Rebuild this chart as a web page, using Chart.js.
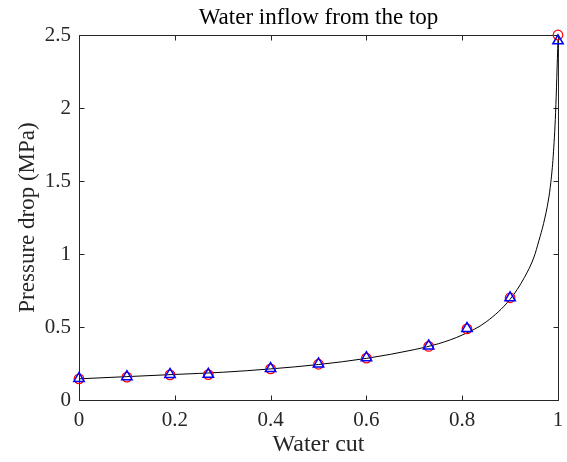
<!DOCTYPE html>
<html>
<head>
<meta charset="utf-8">
<script src="https://cdn.jsdelivr.net/npm/chart.js@4.4.0/dist/chart.umd.min.js"></script>
<style>
  html, body { margin: 0; padding: 0; background: #fff; }
  #wrap { width: 567px; height: 462px; position: relative; }
</style>
</head>
<body>
<div id="wrap"><canvas id="c"></canvas></div>
<script>
const titleText = 'Water inflow from the top';
const xTitle = 'Water cut';
const yTitle = 'Pressure drop (MPa)';
const xTicks = [0, 0.2, 0.4, 0.6, 0.8, 1];
const yTicks = [0, 0.5, 1, 1.5, 2, 2.5];

// measured points
const waterCut   = [0, 0.1, 0.19, 0.27, 0.4, 0.5, 0.6, 0.73, 0.81, 0.9, 1];
const dpCircle   = [0.145, 0.157, 0.172, 0.174, 0.213, 0.245, 0.287, 0.367, 0.487, 0.70, 2.50];
const dpTriangle = [0.148, 0.160, 0.175, 0.176, 0.215, 0.247, 0.290, 0.370, 0.490, 0.70, 2.46];

// model curve
const curveX = [0, 0.1, 0.2, 0.3, 0.4, 0.5, 0.6, 0.7, 0.75, 0.8, 0.85, 0.9, 0.93, 0.95, 0.96, 0.97, 0.98, 0.985, 0.99, 0.995, 1];
const curveY = [0.145, 0.16, 0.175, 0.19, 0.213, 0.243, 0.285, 0.345, 0.385, 0.445, 0.535, 0.69, 0.84, 0.98, 1.09, 1.21, 1.37, 1.49, 1.67, 1.97, 2.47];

const serif = 'Liberation Serif, Times New Roman, serif';
const axisColor = '#262626';

const toPts = (xs, ys) => xs.map((x, i) => ({ x: x, y: ys[i] }));

// MATLAB style box with inward ticks on all sides
const boxTicks = {
    id: 'boxTicks',
    beforeDatasetsDraw(chart) {
        const ctx = chart.ctx;
        const a = chart.chartArea;
        const xs = chart.scales.x, ys = chart.scales.y;
        const L = Math.round(a.left) + 0.5, R = Math.round(a.right) + 0.5;
        const T = Math.round(a.top) + 0.5, B = Math.round(a.bottom) + 0.5;
        const tl = 5;
        ctx.save();
        ctx.strokeStyle = axisColor;
        ctx.lineWidth = 1;
        ctx.beginPath();
        ctx.rect(L, T, R - L, B - T);
        xTicks.forEach(v => {
            const px = Math.round(xs.getPixelForValue(v)) + 0.5;
            ctx.moveTo(px, B); ctx.lineTo(px, B - tl);
            ctx.moveTo(px, T); ctx.lineTo(px, T + tl);
        });
        yTicks.forEach(v => {
            const py = Math.round(ys.getPixelForValue(v)) + 0.5;
            ctx.moveTo(L, py); ctx.lineTo(L + tl, py);
            ctx.moveTo(R, py); ctx.lineTo(R - tl, py);
        });
        ctx.stroke();
        ctx.restore();
    }
};

new Chart(document.getElementById('c'), {
    type: 'scatter',
    data: {
        datasets: [
            {
                label: 'triangle',
                data: toPts(waterCut, dpTriangle),
                pointStyle: 'triangle',
                pointRadius: 6,
                borderColor: '#0000ff',
                backgroundColor: 'rgba(0,0,0,0)',
                pointBorderWidth: 1.5,
                clip: false
            },
            {
                label: 'circle',
                data: toPts(waterCut, dpCircle),
                pointStyle: 'circle',
                pointRadius: 4.8,
                borderColor: '#ff0000',
                backgroundColor: 'rgba(0,0,0,0)',
                pointBorderWidth: 1.2,
                clip: false
            },
            {
                label: 'curve',
                data: toPts(curveX, curveY),
                showLine: true,
                pointRadius: 0,
                borderColor: '#000000',
                borderWidth: 1,
                cubicInterpolationMode: 'monotone',
                clip: false
            }
        ]
    },
    options: {
        responsive: true,
        maintainAspectRatio: false,
        animation: false,
        layout: { padding: { left: 0, right: 9, top: 0, bottom: 0 } },
        plugins: {
            legend: { display: false },
            tooltip: { enabled: false },
            title: {
                display: true,
                fullSize: false,
                text: titleText,
                color: '#000',
                font: { family: serif, size: 23, weight: 'normal' },
                padding: { top: 4, bottom: 3.4 }
            }
        },
        scales: {
            x: {
                type: 'linear',
                min: 0, max: 1,
                afterBuildTicks: s => { s.ticks = xTicks.map(v => ({ value: v })); },
                afterFit: s => { s.height = 62; s.paddingRight = 0; s.paddingLeft = 0; },
                grid: { display: false, drawTicks: false },
                border: { display: false },
                ticks: {
                    color: '#262626',
                    font: { family: serif, size: 21 },
                    padding: 8,
                    maxRotation: 0,
                    callback: v => String(v)
                },
                title: {
                    display: true,
                    text: xTitle,
                    color: '#262626',
                    font: { family: serif, size: 24 },
                    padding: { top: 0, bottom: 3 }
                }
            },
            y: {
                type: 'linear',
                min: 0, max: 2.5,
                afterBuildTicks: s => { s.ticks = yTicks.map(v => ({ value: v })); },
                afterFit: s => { s.width = 79; },
                grid: { display: false, drawTicks: false },
                border: { display: false },
                ticks: {
                    color: '#262626',
                    font: { family: serif, size: 21 },
                    padding: 8,
                    callback: v => String(v)
                },
                title: {
                    display: true,
                    text: yTitle,
                    color: '#262626',
                    font: { family: serif, size: 23 },
                    padding: { top: 14, bottom: 0 }
                }
            }
        }
    },
    plugins: [boxTicks]
});
</script>
</body>
</html>
